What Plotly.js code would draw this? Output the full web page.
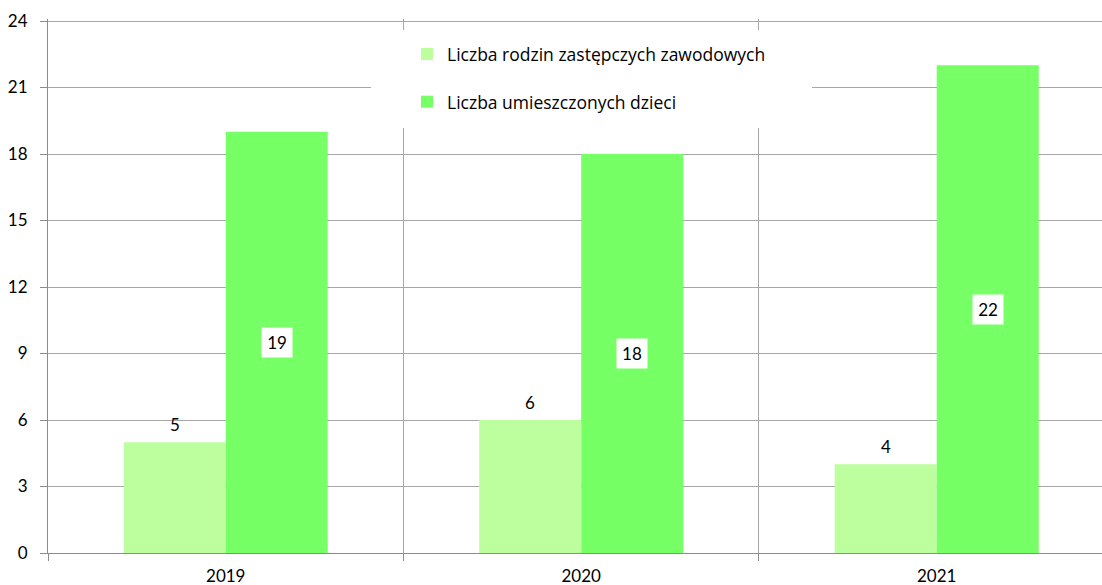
<!DOCTYPE html>
<html><head><meta charset="utf-8">
<script src="https://cdn.plot.ly/plotly-3.0.1.min.js"></script>
<style>html,body{margin:0;padding:0;background:#fff}#chart{width:1102px;height:585px}</style>
</head><body><div id="chart"></div>
<script>
const years = ['2019', '2020', '2021'];
const rodziny = [5, 6, 4];
const dzieci = [19, 18, 22];
const seriesNames = ['Liczba rodzin zastępczych zawodowych', 'Liczba umieszczonych dzieci'];
const yTicks = [0, 3, 6, 9, 12, 15, 18, 21, 24];

const fam = 'Lato, "Open Sans", sans-serif';
const font = {family: fam, size: 17, color: '#000'};
const traces = [
  {type: 'bar', x: years, y: rodziny, name: seriesNames[0], marker: {color: '#bdfe9f'}, legendgroup: 'a', hoverinfo: 'y'},
  {type: 'bar', x: years, y: dzieci, name: seriesNames[1], marker: {color: '#77ff66'}, legendgroup: 'b', hoverinfo: 'y'}
];
const annotations = [];
years.forEach((yr, i) => {
  annotations.push({x: i, y: rodziny[i], xref: 'x', yref: 'y', text: String(rodziny[i]), showarrow: false,
    xshift: -51, yshift: 18, font: {family: fam, size: 17, color: '#000'}});
  annotations.push({x: i, y: dzieci[i] / 2, xref: 'x', yref: 'y', text: String(dzieci[i]), showarrow: false,
    xshift: 51, bgcolor: '#fff', borderpad: 3, width: 24, height: 23,
    font: {family: fam, size: 17, color: '#000'}});
});
const layout = {
  width: 1102, height: 585,
  margin: {l: 48, r: 0, t: 19, b: 32},
  paper_bgcolor: '#fff', plot_bgcolor: '#fff',
  font: font,
  barmode: 'group', bargap: 0.426, bargroupgap: 0,
  xaxis: {type: 'category', range: [-0.5, 2.465], tickson: 'boundaries', ticks: 'outside', ticklen: 7,
    tickcolor: '#8c8c8c', showgrid: true, gridcolor: '#a6a6a6', showline: true, linecolor: '#8c8c8c',
    ticklabelstandoff: 8, tickfont: {family: fam, size: 17, color: '#000'}, fixedrange: true},
  yaxis: {range: [0, 24.09], tickvals: yTicks, ticks: 'outside', ticklen: 7, tickcolor: '#8c8c8c',
    showgrid: true, gridcolor: '#a6a6a6', showline: true, linecolor: '#8c8c8c', zeroline: false,
    ticklabelstandoff: 9, tickfont: {family: fam, size: 17, color: '#000'}, fixedrange: true},
  shapes: [{type: 'rect', xref: 'paper', yref: 'paper', x0: 0.3065, x1: 0.7249, y0: 0.7959, y1: 0.9794,
    fillcolor: '#fff', line: {width: 0}, layer: 'above'}],
  legend: {x: 0.3406, y: 0.968, xanchor: 'left', yanchor: 'top', bgcolor: 'rgba(0,0,0,0)',
    traceorder: 'grouped', tracegroupgap: 22, font: {family: '"Open Sans", Lato, sans-serif', size: 17.5, color: '#000'}},
  annotations: annotations,
  showlegend: true
};
Plotly.newPlot('chart', traces, layout, {displayModeBar: false, staticPlot: true});
</script></body></html>
